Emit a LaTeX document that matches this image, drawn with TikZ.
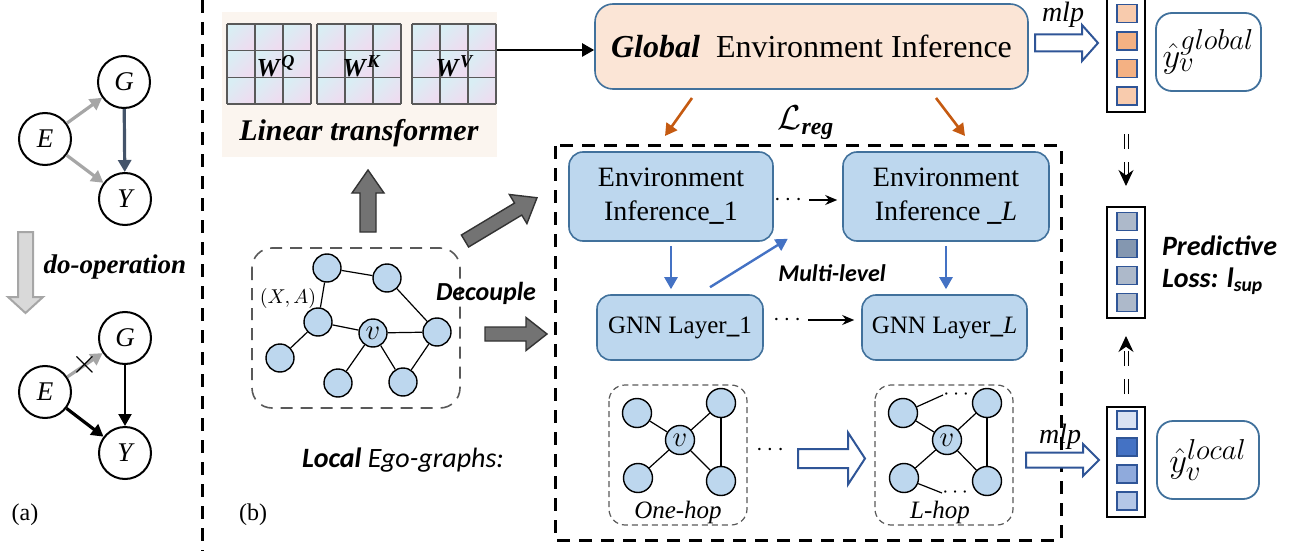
\documentclass[tikz,border=0pt]{standalone}
\usepackage{fontspec}
\setmainfont{Liberation Serif}
\newfontfamily\calibri{Carlito}
\usetikzlibrary{arrows.meta,calc,positioning}
\definecolor{boxblue}{HTML}{41719C}
\definecolor{fillblue}{HTML}{BDD7EE}
\definecolor{peach}{HTML}{FBE5D6}
\definecolor{arrblue}{HTML}{4472C4}
\definecolor{hollowblue}{HTML}{2F5597}
\definecolor{regorange}{HTML}{C55A11}
\definecolor{beige}{HTML}{FBF5EF}
\definecolor{slate}{HTML}{44546A}
\definecolor{gridgray}{HTML}{595959}
\definecolor{arrgray}{HTML}{A6A6A6}
\definecolor{cellcyan}{HTML}{D9EEF4}
\definecolor{cellpink}{HTML}{EEDCF0}
\definecolor{or1}{HTML}{F8CBAD}
\definecolor{or2}{HTML}{F4B183}
\definecolor{gy1}{HTML}{ADB9CA}
\definecolor{gy2}{HTML}{8497B0}
\definecolor{lb1}{HTML}{DAE3F3}
\definecolor{lb2}{HTML}{4472C4}
\definecolor{lb3}{HTML}{8FAADC}
\definecolor{lb4}{HTML}{B4C7E7}
\newcommand{\fsz}[1]{\fontsize{#1}{#1}\selectfont}
\newcommand{\bi}[1]{\textbf{\textit{#1}}}
% start, angle, length, shaft half, head half, head length
\newcommand{\blockarrow}[7][]{%
  \draw[#1,shift={#2},rotate=#3] (0,#5) -- ({#4-#7},#5) -- ({#4-#7},#6) -- (#4,0)
    -- ({#4-#7},-#6) -- ({#4-#7},-#5) -- (0,-#5) -- cycle;}
\begin{document}
\begin{tikzpicture}[x=0.5pt,y=-0.5pt,
    cnode/.style={circle,draw,line width=1pt,minimum size=26pt,inner sep=0pt,font=\fsz{13.5}\itshape},
    gnode/.style={circle,draw,fill=fillblue,line width=0.7pt,minimum size=14pt,inner sep=0pt,font=\fsz{15}},
    envbox/.style={draw=boxblue,fill=fillblue,line width=0.8pt,rounded corners=7pt,align=center,inner sep=0pt},
    outbox/.style={draw=boxblue,fill=white,line width=0.9pt,rounded corners=8pt,minimum width=51pt,minimum height=39pt,font=\fsz{19}},
    vcol/.style={draw,line width=1pt,minimum width=19pt,inner sep=0pt},
    sq/.style={draw=hollowblue,line width=0.6pt,minimum width=10pt,minimum height=9pt,inner sep=0pt},
    gridline/.style={gridgray,line width=0.7pt},
    cellshade/.style={left color=cellcyan,right color=cellpink,shading angle=45},
    grayarr/.style={arrgray,line width=1.6pt,-{Triangle[length=6pt,width=6.5pt]}},
    slatearr/.style={slate,line width=1.6pt,-{Triangle[length=6pt,width=6.5pt]}},
    blackarr/.style={black,line width=1.1pt,-{Triangle[length=6pt,width=6.5pt]}},
    bluearr/.style={arrblue,line width=1.2pt,-{Triangle[length=6pt,width=6.5pt]}},
    regarr/.style={regorange,line width=1.3pt,-{Triangle[length=6pt,width=6.5pt]}},
    thinarr/.style={black,line width=0.8pt,-{Stealth[length=6pt,width=5pt]}},
    dblarr/.style={double,double distance=1.5pt,line width=0.5pt,dash pattern=on 7.5pt off 6.5pt,-{Stealth[length=8pt,width=7.5pt]}},
    bigdash/.style={line width=1.5pt,dash pattern=on 6.5pt off 4.5pt},
    hopbox/.style={draw=gridgray,line width=0.6pt,dash pattern=on 3pt off 2pt,rounded corners=8pt},
    darkblock/.style={fill=black!55,draw=black!80,line width=0.7pt},
    hollow/.style={fill=white,draw=hollowblue,line width=1pt},
    doarr/.style={fill=black!15,draw=arrgray,line width=1pt}]
\useasboundingbox (0,0) rectangle (1290,551);

\node[cnode] (G1) at (124,82) {G};
\node[cnode] (E1) at (45,139) {E};
\node[cnode] (Y1) at (125,199) {Y};
\draw[grayarr] (E1) -- (G1);
\draw[grayarr] (E1) -- (Y1);
\draw[slatearr] (G1) -- (Y1);
\blockarrow[doarr]{(25.5,232)}{-90}{81}{7.5}{17.5}{16}
\node[font=\fsz{13.5}\bfseries\itshape] (doop) at (115,267) {do-operation};
\node[cnode] (G2) at (125,338) {G};
\node[cnode] (E2) at (45,392) {E};
\node[cnode] (Y2) at (125,453) {Y};
\draw[grayarr] (E2) -- node[pos=0.5,inner sep=0pt,black,font=\fsz{16}] (cut) {$\times$} (G2);
\draw[blackarr,line width=1.6pt] (E2) -- (Y2);
\draw[blackarr] (G2) -- (Y2);
\node[font=\fsz{12}] (alab) at (25,515) {(a)};

\draw[bigdash] (202,0) -- (202,551);

\node[fill=beige,minimum width=137.5pt,minimum height=72.5pt] (lintrans) at (359.5,84.5) {};
\foreach \gx in {227,317,412}{
  \foreach \ci in {0,1,2}{
    \foreach \cj in {0,1,2}{
      \shade[cellshade] ({\gx+28*\ci},{24+26.67*\cj}) rectangle +(28,26.67);
    }
  }
  \foreach \k in {0,1,2,3}{
    \draw[gridline] ({\gx+28*\k},24) -- +(0,80);
    \draw[gridline] (\gx,{24+26.67*\k}) -- +(84,0);
  }
}
\node[font=\fsz{13}] (wq) at (276,66) {\bi{W}\textsuperscript{\bi{Q}}};
\node[font=\fsz{13}] (wk) at (362,66) {\bi{W}\textsuperscript{\bi{K}}};
\node[font=\fsz{13}] (wv) at (455,66) {\bi{W}\textsuperscript{\bi{V}}};
\node[font=\fsz{15}] (ltlabel) at (359,133) {\bi{Linear transformer}};

\node[draw=boxblue,fill=peach,line width=0.8pt,rounded corners=9pt,minimum width=216.5pt,minimum height=42.5pt,font=\fsz{16}] (glob) at (811.5,46.5)
  {\bi{Global}\ \ Environment Inference};
\coordinate (ltout) at (497,50);
\draw[blackarr] (ltout) -- (glob.west |- ltout);

\blockarrow[hollow]{(1035,43)}{0}{63}{8.5}{18}{16}
\node[font=\fsz{14}\itshape] (mlpg) at (1063,15) {mlp};
\node[vcol,minimum height=57.5pt] (colg) at (1126,54.5) {};
\foreach \c [count=\i from 0] in {or1,or2,or2,or1}
  \node[sq,fill=\c] at (1127,{13.5+27.5*\i}) {};
\node[outbox] (yglob) at (1208.5,52) {$\hat{y}_v^{global}$};

\node[vcol,minimum height=55.5pt] (colm) at (1126,262.5) {};
\foreach \c [count=\i from 0] in {gy1,gy2,gy1,gy1}
  \node[sq,fill=\c] at (1127,{221.5+27*\i}) {};
\node[font=\fsz{14}\calibri\bfseries\itshape,align=left,anchor=west] (pred) at (1155,265)
  {Predictive\\[2pt]Loss: \textit{l}\textsubscript{\textit{sup}}};

\node[vcol,minimum height=55pt] (coll) at (1126,462) {};
\foreach \c [count=\i from 0] in {lb1,lb2,lb3,lb4}
  \node[sq,fill=\c] at (1127,{420+27*\i}) {};
\node[outbox] (yloc) at (1208,460) {$\hat{y}_v^{local}$};

\draw[dblarr,shorten <=10.5pt,shorten >=10pt] (colg.south) -- (colm.north);
\draw[dblarr,shorten <=6pt,shorten >=8.5pt] (coll.north) -- (colm.south);

\coordinate (rl1) at (692,98);
\coordinate (rl2) at (665,136);
\coordinate (rr1) at (936,98);
\coordinate (rr2) at (965,136);
\draw[regarr] (rl1) -- (rl2);
\draw[regarr] (rr1) -- (rr2);
\node[font=\fsz{17}] (lreg) at (806,123) {$\mathcal{L}$\textsubscript{\bi{reg}}};

\draw[bigdash] (555,146) rectangle (1061,540);

\node[envbox,minimum width=102pt,minimum height=44.5pt,font=\fontsize{14}{17}\selectfont] (env1) at (671,196.5)
  {Environment\\Inference\textbf{\_}1};
\node[envbox,minimum width=103pt,minimum height=44.5pt,font=\fontsize{14}{17}\selectfont] (envL) at (946,196.5)
  {Environment\\Inference \textbf{\_}\textit{L}};
\node[envbox,minimum width=83pt,minimum height=32.5pt,font=\fsz{12.5}] (gnn1) at (680,327.5) {GNN Layer\textbf{\_}1};
\node[envbox,minimum width=82.5pt,minimum height=32.5pt,font=\fsz{12.5}] (gnnL) at (944.5,327.5) {GNN Layer\textbf{\_}\textit{L}};
\draw[bluearr,shorten <=2pt,shorten >=2.5pt] (env1.south) -- (env1.south |- gnn1.north);
\draw[bluearr,shorten <=2pt,shorten >=2.5pt] (envL.south) -- (envL.south |- gnnL.north);
\draw[bluearr] ($(gnn1.north)+(30,-7)$) -- ($(env1.south east)+(14,-3)$);
\node[font=\fsz{12}\calibri\bfseries\itshape] (mlevel) at (832,273) {Multi-level};
\node[font=\fsz{12}] (dots1) at (788,200) {$\cdots$};
\draw[thinarr,shorten >=2.5pt] (dots1.east) -- (envL.west |- dots1.east);
\node[font=\fsz{12}] (dots2) at (787,320) {$\cdots$};
\draw[thinarr,shorten >=3.5pt] (dots2.east) -- (gnnL.west |- dots2.east);

\draw[gridgray,line width=0.8pt,dash pattern=on 6pt off 4pt,rounded corners=10pt] (252,248) rectangle (460,408);
\node[gnode] (e1) at (327,268) {};
\node[gnode] (e2) at (387,278) {};
\node[gnode] (e3) at (318,322) {};
\node[gnode] (ev) at (373,333) {$v$};
\node[gnode] (e5) at (437,332) {};
\node[gnode] (e6) at (280,358) {};
\node[gnode] (e7) at (338,383) {};
\node[gnode] (e8) at (403,382) {};
\foreach \a/\b in {e1/e2,e1/e3,e2/e5,e3/ev,e3/e6,ev/e5,ev/e7,ev/e8,e8/e5}
  \draw[line width=0.6pt] (\a) -- (\b);
\node[font=\fsz{10}] (xa) at (288,298) {$(X,A)$};
\blockarrow[darkblock]{(368,232)}{90}{62}{8}{16}{23}
\blockarrow[darkblock]{(465,241)}{31}{84}{7}{17}{22}
\blockarrow[darkblock]{(485,334)}{0}{62}{7}{16.5}{21}
\node[font=\fsz{13}\calibri\bfseries\itshape] (decouple) at (486,293) {Decouple};
\node[font=\fsz{14}\calibri] (ego) at (403,460) {\bi{Local} \textit{Ego-graphs:}};
\node[font=\fsz{12}] (blab) at (253,515) {(b)};

\draw[hopbox] (609,385) rectangle (747,525);
\node[gnode,minimum size=14.5pt] (o1) at (637,413) {};
\node[gnode,minimum size=14.5pt] (o2) at (721,403) {};
\node[gnode,minimum size=14.5pt] (o3) at (638,478) {};
\node[gnode,minimum size=14.5pt] (o4) at (721,481) {};
\node[gnode,minimum size=14.5pt] (ov) at (680,440) {$v$};
\foreach \a/\b in {ov/o1,ov/o2,ov/o3,ov/o4,o2/o4}
  \draw[line width=0.6pt] (\a) -- (\b);
\node[font=\fsz{12.5}\itshape] (onehop) at (678,512) {One-hop};

\node[font=\fsz{12}] (dots3) at (770,450) {$\cdots$};
\blockarrow[hollow]{(798,458.5)}{0}{67}{9.5}{26}{17}

\draw[hopbox] (875,385) rectangle (1013,525);
\node[gnode,minimum size=14.5pt] (l1) at (903,413) {};
\node[gnode,minimum size=14.5pt] (l2) at (987,403) {};
\node[gnode,minimum size=14.5pt] (l3) at (904,478) {};
\node[gnode,minimum size=14.5pt] (l4) at (987,481) {};
\node[gnode,minimum size=14.5pt] (lv) at (947,440) {$v$};
\foreach \a/\b in {lv/l1,lv/l2,lv/l3,lv/l4,l2/l4}
  \draw[line width=0.6pt] (\a) -- (\b);
\coordinate (lt) at (943,395);
\coordinate (lb) at (942,493);
\draw[line width=0.6pt] (l1) -- (lt);
\draw[line width=0.6pt] (l3) -- (lb);
\node[font=\fsz{11},inner sep=0pt,anchor=west] (dots4) at (lt) {$\cdots$};
\node[font=\fsz{11},inner sep=0pt,anchor=west] (dots5) at (lb) {$\cdots$};
\node[font=\fsz{12.5}\itshape] (lhop) at (940,512) {L-hop};

\blockarrow[hollow]{(1026,460)}{0}{73}{7.5}{16}{16}
\node[font=\fsz{14}\itshape] (mlpl) at (1060,437) {mlp};
\end{tikzpicture}
\end{document}
